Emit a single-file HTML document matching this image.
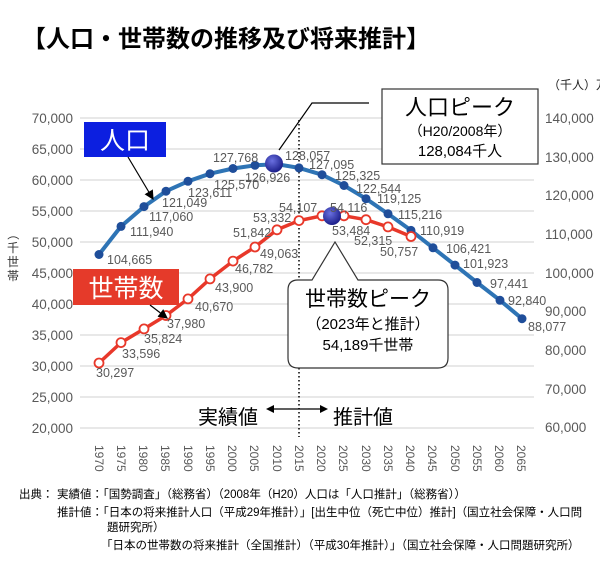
<!DOCTYPE html>
<html><head><meta charset="utf-8"><style>
html,body{margin:0;padding:0;background:#fff;}
svg{display:block;font-family:"Liberation Sans","Noto Sans CJK JP",sans-serif;}
</style></head><body>
<svg width="600" height="568" viewBox="0 0 600 568" xmlns="http://www.w3.org/2000/svg">
<defs>
<radialGradient id="ball" cx="40%" cy="35%" r="65%"><stop offset="0" stop-color="#6a70e0"/><stop offset="1" stop-color="#1c1f8a"/></radialGradient>
<marker id="ah" markerWidth="8" markerHeight="8" refX="7" refY="4" orient="auto"><path d="M0,0 L8,4 L0,8 z" fill="#000"/></marker>
</defs>
<text x="22" y="47" font-size="24" font-weight="bold" fill="#000">【人口・世帯数の推移及び将来推計】</text>
<text x="548" y="89" font-size="12" fill="#222">（千人）万</text>
<text x="594" y="72" font-size="12" fill="#222">（</text>
<!-- gridlines -->
<g stroke="#d9d9d9" stroke-width="1.2">
<line x1="80" x2="534" y1="118" y2="118"/><line x1="80" x2="534" y1="149" y2="149"/><line x1="80" x2="534" y1="180" y2="180"/><line x1="80" x2="534" y1="211" y2="211"/><line x1="80" x2="534" y1="242" y2="242"/><line x1="80" x2="534" y1="273" y2="273"/><line x1="80" x2="534" y1="304" y2="304"/><line x1="80" x2="534" y1="335" y2="335"/><line x1="80" x2="534" y1="366" y2="366"/><line x1="80" x2="534" y1="397" y2="397"/><line x1="80" x2="534" y1="428" y2="428"/>
</g>
<g font-size="13.5" fill="#595959" text-anchor="end">
<text x="73" y="123">70,000</text><text x="73" y="154">65,000</text><text x="73" y="185">60,000</text><text x="73" y="216">55,000</text><text x="73" y="247">50,000</text><text x="73" y="278">45,000</text><text x="73" y="309">40,000</text><text x="73" y="340">35,000</text><text x="73" y="371">30,000</text><text x="73" y="402">25,000</text><text x="73" y="433">20,000</text>
</g>
<g font-size="13.5" fill="#595959">
<text x="545" y="123">140,000</text><text x="545" y="162">130,000</text><text x="545" y="200">120,000</text><text x="545" y="239">110,000</text><text x="545" y="278">100,000</text><text x="545" y="316">90,000</text><text x="545" y="355">80,000</text><text x="545" y="394">70,000</text><text x="545" y="432">60,000</text>
</g>
<g font-size="12" fill="#333" text-anchor="middle">
<text x="13" y="238" transform="rotate(90,13,234)">（</text>
<text x="13" y="252">千</text><text x="13" y="266">世</text><text x="13" y="280">帯</text>
</g>
<!-- year labels -->
<g font-size="12" fill="#595959">
<text transform="translate(95,445) rotate(90)">1970</text><text transform="translate(117,445) rotate(90)">1975</text><text transform="translate(139,445) rotate(90)">1980</text><text transform="translate(161,445) rotate(90)">1985</text><text transform="translate(184,445) rotate(90)">1990</text><text transform="translate(206,445) rotate(90)">1995</text><text transform="translate(228,445) rotate(90)">2000</text><text transform="translate(250,445) rotate(90)">2005</text><text transform="translate(273,445) rotate(90)">2010</text><text transform="translate(295,445) rotate(90)">2015</text><text transform="translate(317,445) rotate(90)">2020</text><text transform="translate(339,445) rotate(90)">2025</text><text transform="translate(362,445) rotate(90)">2030</text><text transform="translate(384,445) rotate(90)">2035</text><text transform="translate(406,445) rotate(90)">2040</text><text transform="translate(428,445) rotate(90)">2045</text><text transform="translate(451,445) rotate(90)">2050</text><text transform="translate(473,445) rotate(90)">2055</text><text transform="translate(495,445) rotate(90)">2060</text><text transform="translate(517,445) rotate(90)">2065</text>
</g>
<line x1="299" y1="120" x2="299" y2="437" stroke="#000" stroke-width="1.5" stroke-dasharray="1.5,2.5"/>
<!-- population -->
<polyline fill="none" stroke="#2e74b5" stroke-width="4" stroke-linejoin="round" points="99,254.5 121,226.4 144,206.6 166,191.2 188,181.3 210,173.7 233,168.5 255,165.3 277,164.2 299,167.9 322,174.7 344,185.5 366,198.7 388,213.8 411,230.4 433,247.8 455,265.1 477,282.5 500,300.3 522,318.7"/>
<g fill="#1f4e9a">
<circle cx="99" cy="254.5" r="4.5"/><circle cx="121" cy="226.4" r="4.5"/><circle cx="144" cy="206.6" r="4.5"/><circle cx="166" cy="191.2" r="4.5"/><circle cx="188" cy="181.3" r="4.5"/><circle cx="210" cy="173.7" r="4.5"/><circle cx="233" cy="168.5" r="4.5"/><circle cx="255" cy="165.3" r="4.5"/><circle cx="299" cy="167.9" r="4.5"/><circle cx="322" cy="174.7" r="4.5"/><circle cx="344" cy="185.5" r="4.5"/><circle cx="366" cy="198.7" r="4.5"/><circle cx="388" cy="213.8" r="4.5"/><circle cx="411" cy="230.4" r="4.5"/><circle cx="433" cy="247.8" r="4.5"/><circle cx="455" cy="265.1" r="4.5"/><circle cx="477" cy="282.5" r="4.5"/><circle cx="500" cy="300.3" r="4.5"/><circle cx="522" cy="318.7" r="4.5"/>
</g>
<circle cx="274" cy="163.5" r="9" fill="url(#ball)"/>
<!-- households -->
<polyline fill="none" stroke="#e8382a" stroke-width="3.5" stroke-linejoin="round" points="99,363 121,342.6 144,328.9 166,315.5 188,298.9 210,278.9 233,261.1 255,247 277,229.8 299,220.6 322,215.8 344,215.8 366,219.7 388,226.9 411,236.5"/>
<g fill="#fff" stroke="#e8382a" stroke-width="1.8">
<circle cx="99" cy="363" r="4.5"/><circle cx="121" cy="342.6" r="4.5"/><circle cx="144" cy="328.9" r="4.5"/><circle cx="166" cy="315.5" r="4.5"/><circle cx="188" cy="298.9" r="4.5"/><circle cx="210" cy="278.9" r="4.5"/><circle cx="233" cy="261.1" r="4.5"/><circle cx="255" cy="247" r="4.5"/><circle cx="277" cy="229.8" r="4.5"/><circle cx="299" cy="220.6" r="4.5"/><circle cx="322" cy="215.8" r="4.5"/><circle cx="344" cy="215.8" r="4.5"/><circle cx="366" cy="219.7" r="4.5"/><circle cx="388" cy="226.9" r="4.5"/><circle cx="411" cy="236.5" r="4.5"/>
</g>
<circle cx="332" cy="216" r="9" fill="url(#ball)"/>
<!-- data labels -->
<g font-size="12.5" fill="#595959">
<text x="107" y="264">104,665</text><text x="130" y="236">111,940</text><text x="149" y="221">117,060</text><text x="162" y="207">121,049</text><text x="188" y="197">123,611</text><text x="214" y="189">125,570</text><text x="213" y="162">127,768</text><text x="245" y="182">126,926</text><text x="285" y="160">128,057</text><text x="309" y="169">127,095</text><text x="335" y="180">125,325</text><text x="356" y="193">122,544</text><text x="377" y="203">119,125</text><text x="398" y="219">115,216</text><text x="420" y="235">110,919</text><text x="446" y="253">106,421</text><text x="463" y="268">101,923</text><text x="490" y="288">97,441</text><text x="508" y="305">92,840</text><text x="528" y="331">88,077</text>
<text x="96" y="377">30,297</text><text x="122" y="358">33,596</text><text x="144" y="343">35,824</text><text x="167" y="328">37,980</text><text x="195" y="311">40,670</text><text x="215" y="292">43,900</text><text x="235" y="273">46,782</text><text x="260" y="258">49,063</text><text x="233" y="237">51,842</text><text x="253" y="222">53,332</text><text x="279" y="212">54,107</text><text x="330" y="212">54,116</text><text x="332" y="235">53,484</text><text x="354" y="245">52,315</text><text x="380" y="256">50,757</text>
</g>
<!-- label boxes -->
<rect x="84" y="122" width="82" height="35" fill="#0c1fe0"/>
<text x="125" y="149" font-size="25" fill="#fff" text-anchor="middle">人口</text>
<line x1="128" y1="157" x2="153" y2="199" stroke="#000" stroke-width="1.2" marker-end="url(#ah)"/>
<rect x="73" y="269" width="106" height="36" fill="#e53a2a"/>
<text x="126" y="297" font-size="25" fill="#fff" text-anchor="middle">世帯数</text>
<line x1="150" y1="305" x2="167" y2="318" stroke="#000" stroke-width="1.2" marker-end="url(#ah)"/>
<!-- population peak -->
<polyline points="279,150 312,103 369,103" fill="none" stroke="#000" stroke-width="1.2"/>
<rect x="382" y="89" width="156" height="75" fill="#fff" stroke="#333" stroke-width="1.2"/>
<text x="460" y="115" font-size="22" text-anchor="middle" fill="#000">人口ピーク</text>
<text x="460" y="136" font-size="14" text-anchor="middle" fill="#000">（H20/2008年）</text>
<text x="460" y="156" font-size="15" text-anchor="middle" fill="#000">128,084千人</text>
<!-- household peak -->
<path d="M300,280 L312,280 L335,242 L358,280 L438,280 Q448,280 448,290 L448,358 Q448,368 438,368 L298,368 Q288,368 288,358 L288,290 Q288,280 298,280 Z" fill="#fff" stroke="#333" stroke-width="1.2"/>
<text x="368" y="306" font-size="21" text-anchor="middle" fill="#000">世帯数ピーク</text>
<text x="368" y="329" font-size="15" text-anchor="middle" fill="#000">（2023年と推計）</text>
<text x="368" y="350" font-size="15" text-anchor="middle" fill="#000">54,189千世帯</text>
<!-- actual / projected -->
<text x="198" y="424" font-size="20" fill="#000">実績値</text>
<text x="333" y="424" font-size="20" fill="#000">推計値</text>
<line x1="272" y1="409" x2="322" y2="409" stroke="#000" stroke-width="1.2"/>
<path d="M266,409 L274,405 L274,413 Z M328,409 L320,405 L320,413 Z" fill="#000"/>
<!-- footer -->
<g font-size="11.5" fill="#000">
<text x="19" y="498">出典：</text>
<text x="57" y="498">実績値：「国勢調査」（総務省）（2008年（H20）人口は「人口推計」（総務省））</text>
<text x="57" y="516">推計値：「日本の将来推計人口（平成29年推計）」[出生中位（死亡中位）推計]（国立社会保障・人口問</text>
<text x="107" y="531">題研究所）</text>
<text x="101" y="549">「日本の世帯数の将来推計（全国推計）（平成30年推計）」（国立社会保障・人口問題研究所）</text>
</g>
</svg>
</body></html>
